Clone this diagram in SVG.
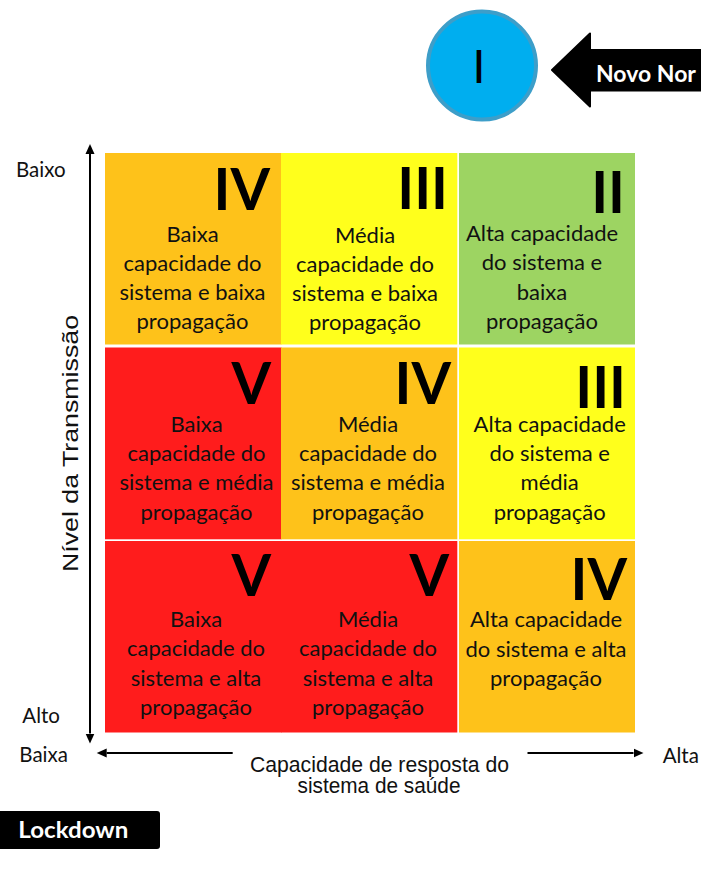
<svg xmlns="http://www.w3.org/2000/svg" width="701" height="878" viewBox="0 0 701 878">
<defs>
<style>
.cell-text{font-family:Lato,"Noto Sans",sans-serif;font-size:22px;fill:#111;text-anchor:middle}
.num{font-family:Lato,"Noto Sans",sans-serif;font-weight:bold;font-size:57px;fill:#000;text-anchor:end}
.lbl{font-family:Lato,"Noto Sans",sans-serif;font-size:20.5px;fill:#111}
.axis-title{font-family:"Liberation Sans",Arial,sans-serif;fill:#111}
.axis{stroke:#000;stroke-width:2;fill:none}
.orange{fill:#FEC21A}
.yellow{fill:#FFFF1C}
.green{fill:#9DD462}
.red{fill:#FF1C1C}
</style>
<marker id="ah" markerUnits="userSpaceOnUse" markerWidth="11" markerHeight="10" refX="0" refY="4.5" orient="auto" viewBox="0 0 11 9">
<path d="M0,0 L10,4.5 L0,9 z" fill="#000"/>
</marker>
</defs>
<rect width="701" height="878" fill="#fff"/>

<g id="level-I">
<circle cx="482" cy="65.5" r="54" fill="#00AEEF" stroke="#3D9EC9" stroke-width="4"/>
<text x="479" y="83.3" font-family="Lato,'Noto Sans',sans-serif" font-size="46" text-anchor="middle" fill="#000">I</text>
</g>

<g id="novo-normal-arrow">
<path d="M552,70 L590,33.5 L590,50 L705,50 L705,90.5 L590,90.5 L590,106.5 Z" fill="#000" stroke="#000" stroke-width="2" stroke-linejoin="round"/>
<text x="596" y="81.7" font-family="Lato,'Noto Sans',sans-serif" font-weight="bold" font-size="23" fill="#fff">Novo Nor</text>
</g>

<g id="cell-r1c1">
<rect class="orange" x="105" y="153" width="176.5" height="191.5"/>
<text class="num" x="270" y="210">IV</text>
<text class="cell-text" x="192.5" y="241.5">Baixa</text>
<text class="cell-text" x="192.5" y="270.8">capacidade do</text>
<text class="cell-text" x="192.5" y="300">sistema e baixa</text>
<text class="cell-text" x="192.5" y="329.3">propagação</text>
</g>
<g id="cell-r1c2">
<rect class="yellow" x="281" y="153" width="176.3" height="191.5"/>
<text class="num" x="448" y="209">III</text>
<text class="cell-text" x="365" y="242.5">Média</text>
<text class="cell-text" x="365" y="271.8">capacidade do</text>
<text class="cell-text" x="365" y="301">sistema e baixa</text>
<text class="cell-text" x="365" y="330.3">propagação</text>
</g>
<g id="cell-r1c3">
<rect class="green" x="459" y="153" width="176" height="191.5"/>
<text class="num" x="625" y="212.8">II</text>
<text class="cell-text" x="542" y="241">Alta capacidade</text>
<text class="cell-text" x="542" y="270.3">do sistema e</text>
<text class="cell-text" x="542" y="299.6">baixa</text>
<text class="cell-text" x="542" y="328.9">propagação</text>
</g>

<g id="cell-r2c1">
<rect class="red" x="105" y="347.5" width="176.5" height="191.8"/>
<text class="num" x="271" y="404.3">V</text>
<text class="cell-text" x="196.5" y="431.7">Baixa</text>
<text class="cell-text" x="196.5" y="461">capacidade do</text>
<text class="cell-text" x="196.5" y="490.3">sistema e média</text>
<text class="cell-text" x="196.5" y="519.6">propagação</text>
</g>
<g id="cell-r2c2">
<rect class="orange" x="281" y="347.5" width="176.3" height="191.8"/>
<text class="num" x="451" y="404.3">IV</text>
<text class="cell-text" x="368" y="431.7">Média</text>
<text class="cell-text" x="368" y="461">capacidade do</text>
<text class="cell-text" x="368" y="490.3">sistema e média</text>
<text class="cell-text" x="368" y="519.6">propagação</text>
</g>
<g id="cell-r2c3">
<rect class="yellow" x="459" y="347.5" width="176" height="191.8"/>
<text class="num" x="626" y="407.7">III</text>
<text class="cell-text" x="549.7" y="431.7">Alta capacidade</text>
<text class="cell-text" x="549.7" y="461">do sistema e</text>
<text class="cell-text" x="549.7" y="490.3">média</text>
<text class="cell-text" x="549.7" y="519.6">propagação</text>
</g>

<g id="cell-r3c1">
<rect class="red" x="105" y="541" width="176.5" height="191.5"/>
<text class="num" x="271" y="595.7">V</text>
<text class="cell-text" x="196" y="627">Baixa</text>
<text class="cell-text" x="196" y="656.3">capacidade do</text>
<text class="cell-text" x="196" y="685.6">sistema e alta</text>
<text class="cell-text" x="196" y="714.9">propagação</text>
</g>
<g id="cell-r3c2">
<rect class="red" x="281" y="541" width="176.3" height="191.5"/>
<text class="num" x="449" y="595.7">V</text>
<text class="cell-text" x="368" y="627">Média</text>
<text class="cell-text" x="368" y="656.3">capacidade do</text>
<text class="cell-text" x="368" y="685.6">sistema e alta</text>
<text class="cell-text" x="368" y="714.9">propagação</text>
</g>
<g id="cell-r3c3">
<rect class="orange" x="459" y="541" width="176" height="191.5"/>
<text class="num" x="627" y="600">IV</text>
<text class="cell-text" x="546" y="627.3">Alta capacidade</text>
<text class="cell-text" x="546" y="656.8">do sistema e alta</text>
<text class="cell-text" x="546" y="686.3">propagação</text>
</g>

<g id="connectors">
<line class="axis" x1="90" y1="444" x2="90" y2="154" marker-end="url(#ah)"/>
<line class="axis" x1="90" y1="444" x2="90" y2="733.5" marker-end="url(#ah)"/>
<line class="axis" x1="232.7" y1="753" x2="106.7" y2="753" marker-end="url(#ah)"/>
<line class="axis" x1="527.5" y1="753" x2="633.5" y2="753" marker-end="url(#ah)"/>
</g>

<g id="axis-labels">
<text class="lbl" x="16" y="176.7">Baixo</text>
<text class="lbl" x="22.3" y="722.7">Alto</text>
<text class="lbl" x="19.3" y="761.7">Baixa</text>
<text class="lbl" x="662.7" y="763.3">Alta</text>
<text class="axis-title" transform="translate(77.8,443.5) rotate(-90)" font-size="22" text-anchor="middle" textLength="257" lengthAdjust="spacingAndGlyphs">Nível da Transmissão</text>
<text class="axis-title" x="379.5" y="771.7" font-size="21.5" text-anchor="middle" textLength="259" lengthAdjust="spacingAndGlyphs">Capacidade de resposta do</text>
<text class="axis-title" x="379" y="793.3" font-size="21.5" text-anchor="middle" textLength="163" lengthAdjust="spacingAndGlyphs">sistema de saúde</text>
</g>

<g id="lockdown">
<rect x="-4" y="811" width="164" height="38" rx="3" fill="#000"/>
<text x="18.3" y="838.3" font-family="Lato,'Noto Sans',sans-serif" font-weight="bold" font-size="22" fill="#fff" textLength="110" lengthAdjust="spacingAndGlyphs">Lockdown</text>
</g>
</svg>
